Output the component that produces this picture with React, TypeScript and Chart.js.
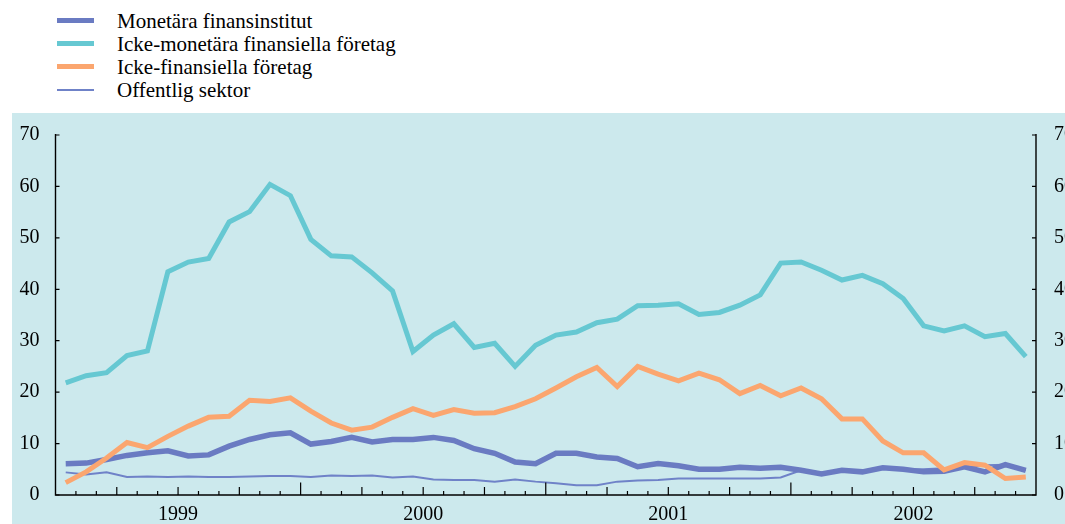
import React, { useEffect, useRef } from "react";
import { Chart, registerables } from "chart.js";

Chart.register(...registerables);

// ---- Data ----
const years = ["1999", "2000", "2001", "2002"];
const monthNames = ["jan", "feb", "mar", "apr", "maj", "jun", "jul", "aug", "sep", "okt", "nov", "dec"];
const months = years.flatMap((y) => monthNames.map((m) => `${m} ${y}`));

const seriesNames = [
  "Monetära finansinstitut",
  "Icke-monetära finansiella företag",
  "Icke-finansiella företag",
  "Offentlig sektor",
];

const monetara = [
  6.1, 6.2, 6.9, 7.7, 8.2, 8.6, 7.6, 7.8, 9.5, 10.8, 11.7, 12.1,
  9.9, 10.4, 11.2, 10.3, 10.8, 10.8, 11.2, 10.6, 9.0, 8.1, 6.4, 6.1,
  8.1, 8.1, 7.4, 7.1, 5.5, 6.1, 5.7, 5.0, 5.0, 5.4, 5.2, 5.4,
  4.8, 4.1, 4.8, 4.5, 5.3, 5.0, 4.5, 4.6, 5.5, 4.5, 5.9, 4.8,
];

const ickeMonetara = [
  21.8, 23.2, 23.8, 27.1, 28.0, 43.4, 45.3, 46.0, 53.1, 55.1, 60.4, 58.2,
  49.7, 46.5, 46.3, 43.2, 39.7, 27.9, 31.1, 33.3, 28.7, 29.5, 25.0, 29.1,
  31.1, 31.7, 33.5, 34.2, 36.8, 36.9, 37.2, 35.1, 35.5, 36.9, 38.9, 45.1,
  45.3, 43.7, 41.8, 42.7, 41.1, 38.2, 32.9, 31.9, 32.9, 30.8, 31.4, 26.9,
];

const ickeFinansiella = [
  2.4, 4.5, 7.2, 10.2, 9.2, 11.4, 13.4, 15.1, 15.3, 18.4, 18.2, 18.9,
  16.3, 14.0, 12.6, 13.2, 15.1, 16.8, 15.5, 16.6, 15.9, 16.0, 17.2, 18.7,
  20.8, 23.0, 24.8, 21.1, 25.0, 23.5, 22.2, 23.7, 22.4, 19.7, 21.3, 19.3,
  20.8, 18.7, 14.8, 14.8, 10.5, 8.2, 8.2, 4.9, 6.3, 5.8, 3.2, 3.5,
];

const offentlig = [
  4.4, 4.0, 4.4, 3.5, 3.6, 3.5, 3.6, 3.5, 3.5, 3.6, 3.7, 3.7,
  3.5, 3.8, 3.7, 3.8, 3.4, 3.6, 3.0, 2.9, 2.9, 2.6, 3.0, 2.6,
  2.3, 1.9, 1.9, 2.6, 2.8, 2.9, 3.2, 3.2, 3.2, 3.2, 3.2, 3.4,
  4.8, 4.4, 4.8, 4.6, 5.2, 5.0, 5.0, 5.2, 5.4, 5.8, 5.9, 4.8,
];

const yTicks = [0, 10, 20, 30, 40, 50, 60, 70];

// ---- Styles ----
const FONT = "'Liberation Serif', 'Times New Roman', serif";
const COL_MON = "#6a7bc2";
const COL_ICKEMON = "#66c8d2";
const COL_ICKEFIN = "#fba66f";
const COL_OFF = "#6f82c8";
const BG = "#cce9ed";

const legendItems = [
  { label: seriesNames[0], color: COL_MON, width: 5 },
  { label: seriesNames[1], color: COL_ICKEMON, width: 5 },
  { label: seriesNames[2], color: COL_ICKEFIN, width: 5 },
  { label: seriesNames[3], color: COL_OFF, width: 2 },
];

const toPoints = (vals: number[]) => vals.map((v, i) => ({ x: i + 0.5, y: v, month: months[i] }));

const axisPlugin = {
  id: "innerTicks",
  afterDraw(chart: any) {
    const ctx = chart.ctx;
    const area = chart.chartArea;
    const xs = chart.scales.x;
    const yl = chart.scales.y;
    ctx.save();
    ctx.strokeStyle = "#000";
    ctx.lineWidth = 1.4;
    // axis lines
    ctx.beginPath();
    ctx.moveTo(area.left, area.top - 1);
    ctx.lineTo(area.left, area.bottom);
    ctx.lineTo(area.right, area.bottom);
    ctx.lineTo(area.right, area.top - 1);
    ctx.stroke();
    ctx.lineWidth = 1.2;
    // x ticks (monthly, quarterly, yearly)
    for (let m = 1; m < months.length; m++) {
      const px = xs.getPixelForValue(m);
      const len = m % 12 === 0 ? 12.5 : m % 3 === 0 ? 8 : 4;
      ctx.beginPath();
      ctx.moveTo(px, area.bottom);
      ctx.lineTo(px, area.bottom - len);
      ctx.stroke();
    }
    // y ticks inward
    for (const v of yTicks) {
      const py = yl.getPixelForValue(v);
      ctx.beginPath();
      ctx.moveTo(area.left, py);
      ctx.lineTo(area.left + 4, py);
      ctx.moveTo(area.right, py);
      ctx.lineTo(area.right - 4, py);
      ctx.stroke();
    }
    ctx.restore();
  },
};

export default function App() {
  const canvasRef = useRef<HTMLCanvasElement | null>(null);

  useEffect(() => {
    if (!canvasRef.current) return;
    const chart = new Chart(canvasRef.current, {
      type: "line",
      data: {
        datasets: [
          {
            label: seriesNames[2],
            data: toPoints(ickeFinansiella),
            borderColor: COL_ICKEFIN,
            borderWidth: 5,
            pointRadius: 0,
            tension: 0,
          },
          {
            label: seriesNames[0],
            data: toPoints(monetara),
            borderColor: COL_MON,
            borderWidth: 5.5,
            pointRadius: 0,
            tension: 0,
          },
          {
            label: seriesNames[3],
            data: toPoints(offentlig),
            borderColor: COL_OFF,
            borderWidth: 2,
            pointRadius: 0,
            tension: 0,
          },
          {
            label: seriesNames[1],
            data: toPoints(ickeMonetara),
            borderColor: COL_ICKEMON,
            borderWidth: 5,
            pointRadius: 0,
            tension: 0,
          },
        ],
      },
      options: {
        responsive: false,
        animation: false,
        devicePixelRatio: 1,
        layout: { padding: { top: 20, left: 0, right: 0, bottom: 0 } },
        plugins: {
          legend: { display: false },
          tooltip: { enabled: false },
        },
        scales: {
          x: {
            type: "linear",
            min: 0,
            max: months.length,
            grid: { display: false },
            border: { display: false },
            afterBuildTicks: (s: any) => {
              s.ticks = years.map((_, i) => ({ value: i * 12 + 6 }));
            },
            afterFit: (s: any) => {
              s.height = 29;
            },
            ticks: {
              autoSkip: false,
              maxRotation: 0,
              padding: 0,
              color: "#000",
              font: { family: FONT, size: 20 },
              callback: (_v: any, i: number) => years[i],
            },
          },
          y: {
            position: "left",
            min: 0,
            max: 70,
            grid: { display: false },
            border: { display: false },
            afterFit: (s: any) => {
              s.width = 43.5;
            },
            ticks: {
              stepSize: 10,
              padding: 8,
              color: "#000",
              font: { family: FONT, size: 20 },
            },
          },
          y2: {
            position: "right",
            min: 0,
            max: 70,
            grid: { display: false },
            border: { display: false },
            afterFit: (s: any) => {
              s.width = 29;
            },
            ticks: {
              stepSize: 10,
              padding: 10,
              color: "#000",
              font: { family: FONT, size: 20 },
            },
          },
        },
      },
      plugins: [axisPlugin],
    } as any);
    return () => chart.destroy();
  }, []);

  return (
    <div
      style={{
        position: "fixed",
        left: 0,
        top: 0,
        width: 1065,
        height: 524,
        background: "#fff",
        overflow: "hidden",
        fontFamily: FONT,
      }}
    >
      {legendItems.map((it, k) => {
        const cy = 20.7 + k * 23.1;
        return (
          <React.Fragment key={it.label}>
            <div
              style={{
                position: "absolute",
                left: 57,
                top: cy - it.width / 2,
                width: 37,
                height: it.width,
                background: it.color,
              }}
            />
            <div
              style={{
                position: "absolute",
                left: 117,
                top: cy + 7.6 - 19.6,
                fontSize: 21,
                lineHeight: "24px",
                color: "#000",
                whiteSpace: "nowrap",
              }}
            >
              {it.label}
            </div>
          </React.Fragment>
        );
      })}
      <div
        style={{
          position: "absolute",
          left: 12,
          top: 113,
          width: 1053,
          height: 411,
          background: BG,
        }}
      >
        <canvas ref={canvasRef} width={1053} height={411} style={{ display: "block" }} />
      </div>
    </div>
  );
}
